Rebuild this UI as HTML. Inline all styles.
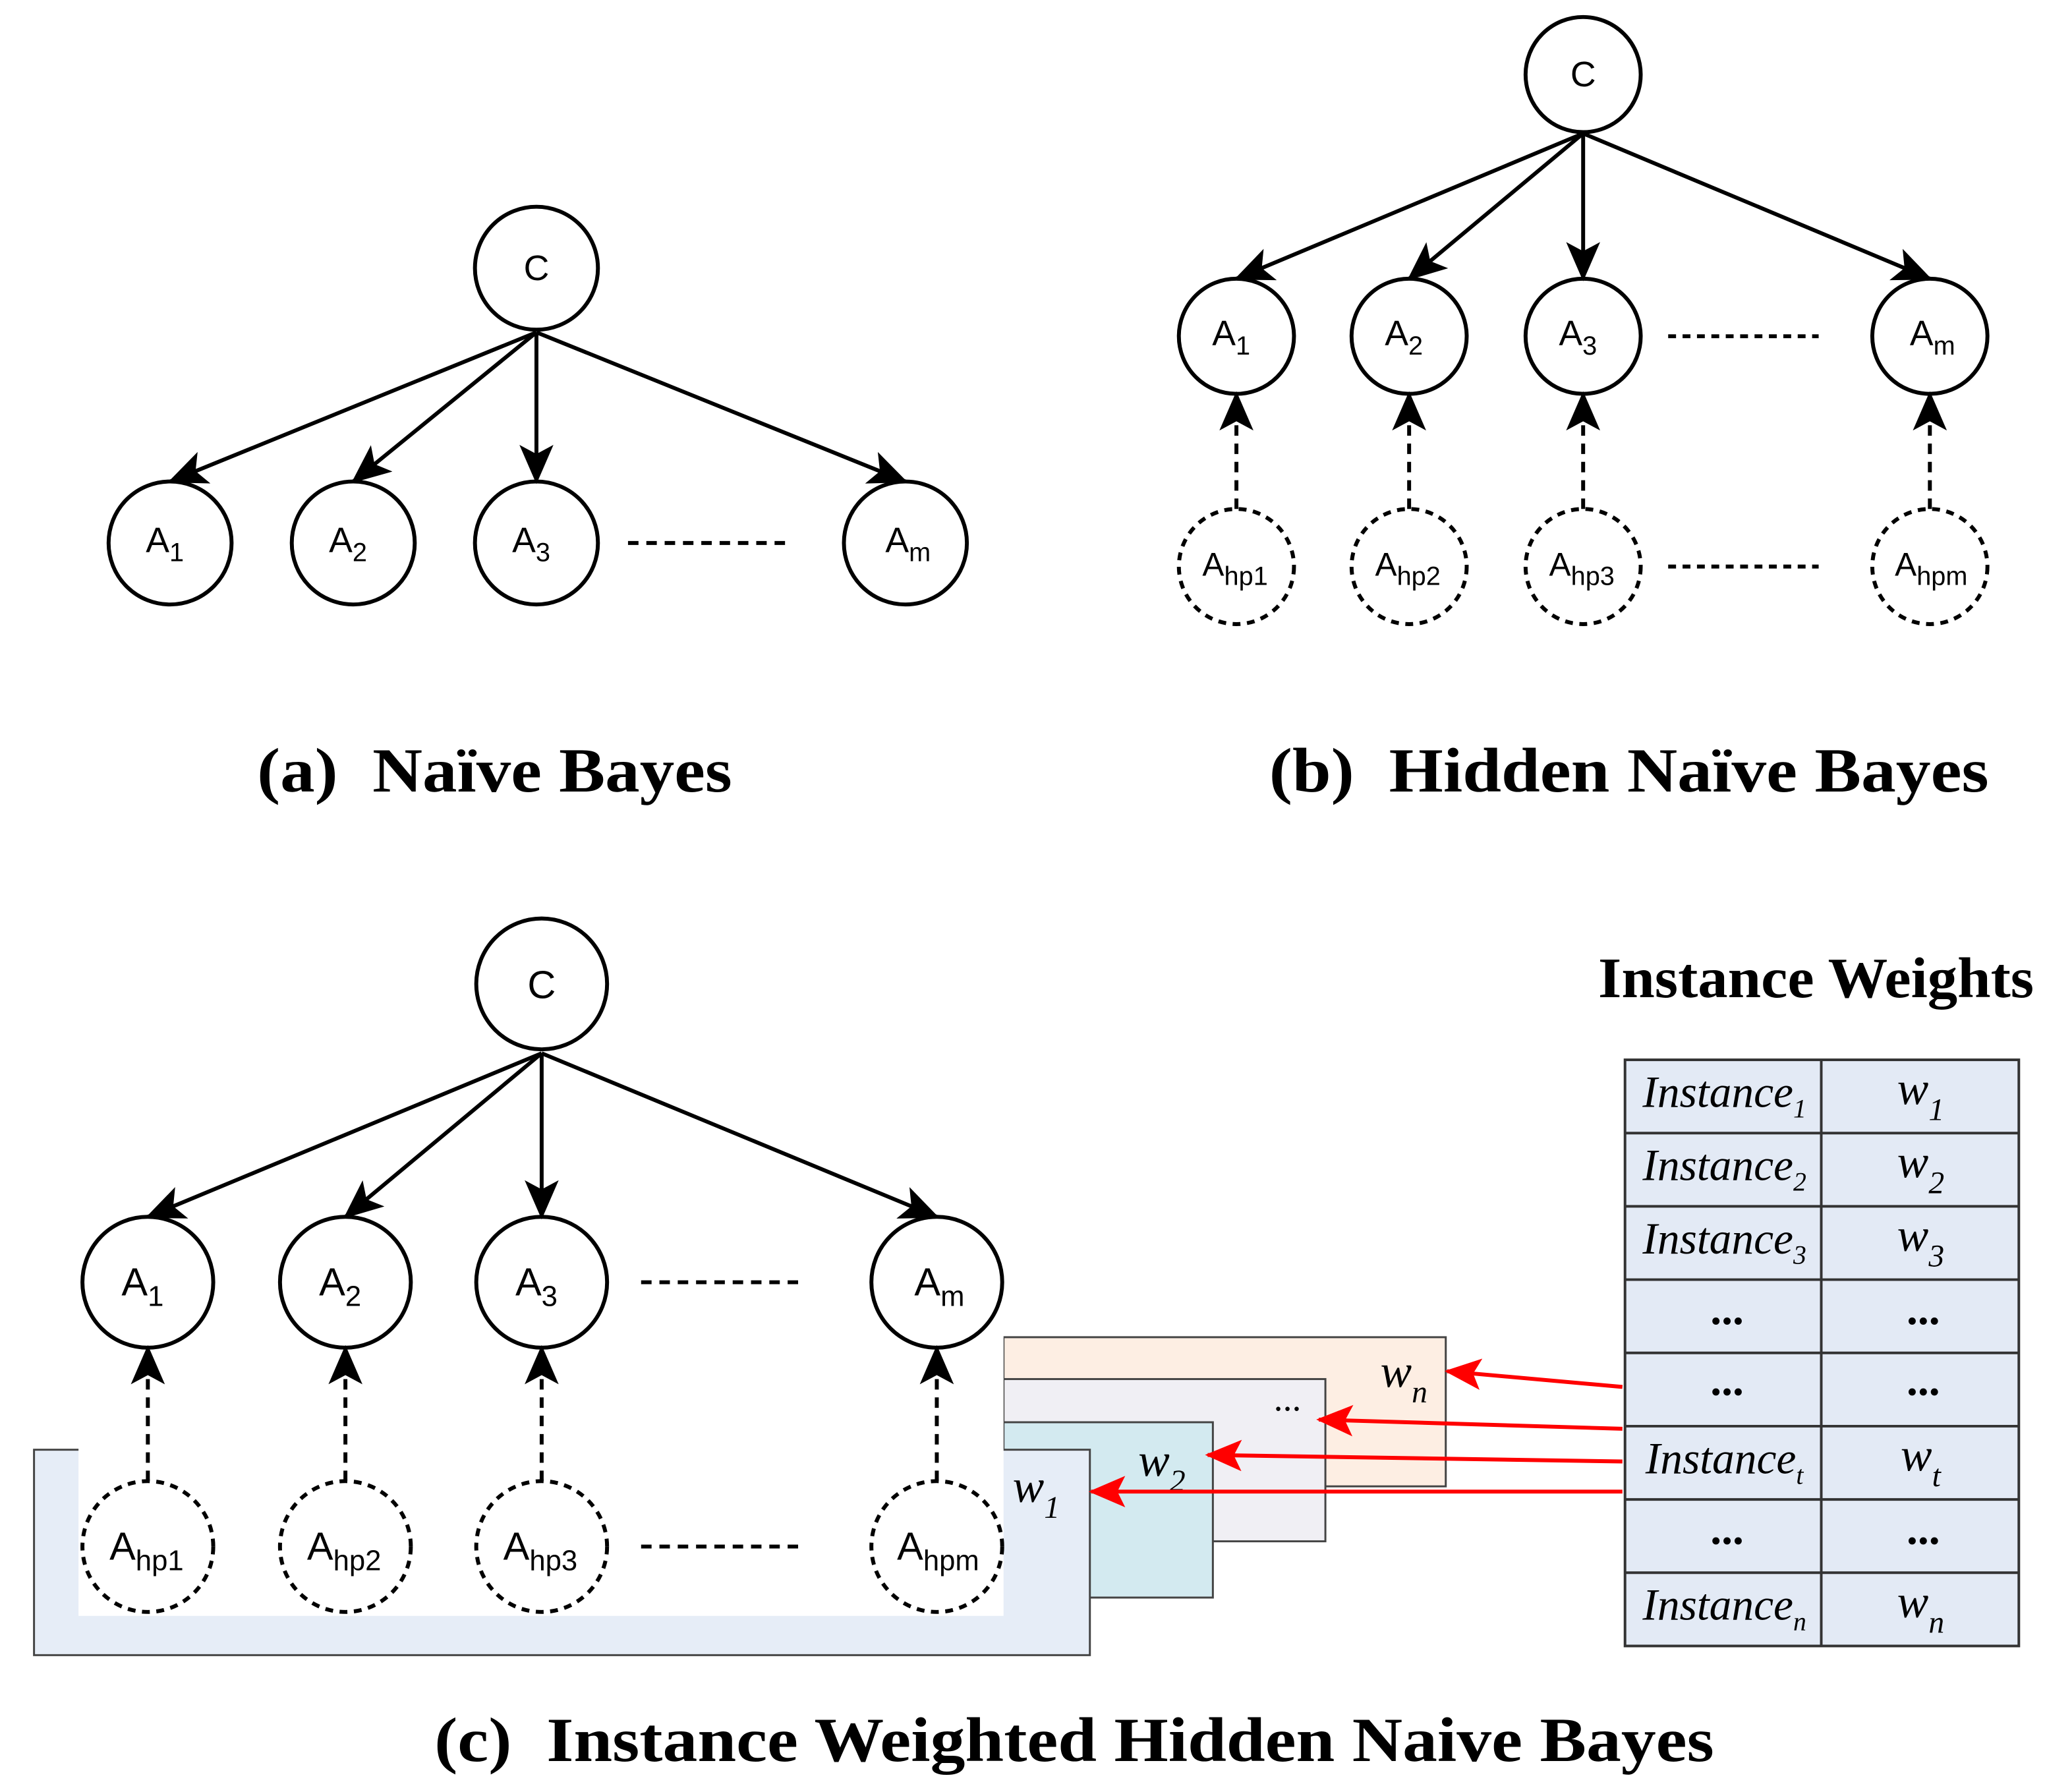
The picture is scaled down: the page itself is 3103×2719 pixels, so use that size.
<!DOCTYPE html>
<html><head><meta charset="utf-8"><style>html,body{margin:0;padding:0;background:#fff}svg{display:block}</style></head><body>
<svg width="3103" height="2719" viewBox="0 0 1563 1369.6" preserveAspectRatio="none" xmlns="http://www.w3.org/2000/svg">
<defs>
<marker id="ah2" markerWidth="30" markerHeight="26" refX="28" refY="13" orient="auto" markerUnits="userSpaceOnUse" viewBox="0 0 30 26"><path d="M0,0 L30,13 L0,26 L7,13 z" fill="#000"/></marker>
<marker id="rh" markerWidth="28" markerHeight="24" refX="26" refY="12" orient="auto" markerUnits="userSpaceOnUse" viewBox="0 0 28 24"><path d="M0,0 L28,12 L0,24 L6,12 z" fill="#f00"/></marker>
</defs>
<g font-family="Liberation Sans, sans-serif" font-size="27" text-anchor="middle" fill="#000">
<!-- (a) -->
<g stroke="#000" stroke-width="3" fill="none">
<circle cx="410" cy="205" r="47"/>
<circle cx="130" cy="415" r="47"/><circle cx="270" cy="415" r="47"/><circle cx="410" cy="415" r="47"/><circle cx="692" cy="415" r="47"/>
<line x1="410" y1="254" x2="130" y2="368" marker-end="url(#ah2)"/>
<line x1="410" y1="254" x2="270" y2="368" marker-end="url(#ah2)"/>
<line x1="410" y1="254" x2="410" y2="368" marker-end="url(#ah2)"/>
<line x1="410" y1="254" x2="692" y2="368" marker-end="url(#ah2)"/>
<line x1="480" y1="415" x2="600" y2="415" stroke-dasharray="8,6"/>
</g>
<text x="410" y="214">C</text>
<text x="126" y="422">A<tspan font-size="20" dy="7">1</tspan></text>
<text x="266" y="422">A<tspan font-size="20" dy="7">2</tspan></text>
<text x="406" y="422">A<tspan font-size="20" dy="7">3</tspan></text>
<text x="694" y="422">A<tspan font-size="20" dy="7">m</tspan></text>
<text x="378" y="605" font-family="Liberation Serif, serif" font-weight="bold" font-size="48" textLength="363" lengthAdjust="spacingAndGlyphs" xml:space="preserve">(a)  Naïve Bayes</text>
<!-- (b) -->
<g stroke="#000" stroke-width="3" fill="none">
<circle cx="1210" cy="57" r="44"/>
<circle cx="945" cy="257" r="44"/><circle cx="1077" cy="257" r="44"/><circle cx="1210" cy="257" r="44"/><circle cx="1475" cy="257" r="44"/>
<line x1="1210" y1="102" x2="945" y2="213" marker-end="url(#ah2)"/>
<line x1="1210" y1="102" x2="1077" y2="213" marker-end="url(#ah2)"/>
<line x1="1210" y1="102" x2="1210" y2="213" marker-end="url(#ah2)"/>
<line x1="1210" y1="102" x2="1475" y2="213" marker-end="url(#ah2)"/>
<g stroke-dasharray="6,5">
<circle cx="945" cy="433" r="44"/><circle cx="1077" cy="433" r="44"/><circle cx="1210" cy="433" r="44"/><circle cx="1475" cy="433" r="44"/>
<line x1="1275" y1="257" x2="1390" y2="257"/><line x1="1275" y1="433" x2="1390" y2="433"/>
</g>
<g stroke-dasharray="8,6">
<line x1="945" y1="389" x2="945" y2="301" marker-end="url(#ah2)"/>
<line x1="1077" y1="389" x2="1077" y2="301" marker-end="url(#ah2)"/>
<line x1="1210" y1="389" x2="1210" y2="301" marker-end="url(#ah2)"/>
<line x1="1475" y1="389" x2="1475" y2="301" marker-end="url(#ah2)"/>
</g>
</g>
<text x="1210" y="66">C</text>
<text x="941" y="264">A<tspan font-size="20" dy="7">1</tspan></text>
<text x="1073" y="264">A<tspan font-size="20" dy="7">2</tspan></text>
<text x="1206" y="264">A<tspan font-size="20" dy="7">3</tspan></text>
<text x="1477" y="264">A<tspan font-size="20" dy="7">m</tspan></text>
<g font-size="25">
<text x="944" y="440">A<tspan font-size="20" dy="7">hp1</tspan></text>
<text x="1076" y="440">A<tspan font-size="20" dy="7">hp2</tspan></text>
<text x="1209" y="440">A<tspan font-size="20" dy="7">hp3</tspan></text>
<text x="1476" y="440">A<tspan font-size="20" dy="7">hpm</tspan></text>
</g>
<text x="1245" y="605" font-family="Liberation Serif, serif" font-weight="bold" font-size="48" textLength="550" lengthAdjust="spacingAndGlyphs" xml:space="preserve">(b)  Hidden Naïve Bayes</text>
<!-- (c) panels -->
<rect x="767" y="1022" width="338" height="114" fill="#fdeee3" stroke="#444" stroke-width="1.5"/>
<rect x="767" y="1054" width="246" height="124" fill="#f0eff4" stroke="#444" stroke-width="1.5"/>
<rect x="767" y="1087" width="160" height="134" fill="#d3eaf0" stroke="#444" stroke-width="1.5"/>
<rect x="26" y="1108" width="807" height="157" fill="#e6edf7" stroke="#444" stroke-width="1.5"/>
<rect x="60" y="1020" width="707" height="215" fill="#fff"/>
<g font-family="Liberation Serif, serif" font-style="italic" font-size="36">
<text x="1073" y="1060">w<tspan font-size="24" dy="12">n</tspan></text>
<text x="984" y="1078" font-style="normal" font-size="28">...</text>
<text x="888" y="1128">w<tspan font-size="24" dy="12">2</tspan></text>
<text x="792" y="1148">w<tspan font-size="24" dy="12">1</tspan></text>
</g>
<g stroke="#000" stroke-width="3" fill="none">
<circle cx="414" cy="752" r="50"/>
<circle cx="113" cy="980" r="50"/><circle cx="264" cy="980" r="50"/><circle cx="414" cy="980" r="50"/><circle cx="716" cy="980" r="50"/>
<line x1="414" y1="805" x2="113" y2="930" marker-end="url(#ah2)"/>
<line x1="414" y1="805" x2="264" y2="930" marker-end="url(#ah2)"/>
<line x1="414" y1="805" x2="414" y2="930" marker-end="url(#ah2)"/>
<line x1="414" y1="805" x2="716" y2="930" marker-end="url(#ah2)"/>
<g stroke-dasharray="6,5">
<circle cx="113" cy="1182" r="50"/><circle cx="264" cy="1182" r="50"/><circle cx="414" cy="1182" r="50"/><circle cx="716" cy="1182" r="50"/>
<line x1="490" y1="980" x2="615" y2="980" stroke-dasharray="8,6"/><line x1="490" y1="1182" x2="615" y2="1182" stroke-dasharray="8,6"/>
</g>
<g stroke-dasharray="8,6">
<line x1="113" y1="1132" x2="113" y2="1030" marker-end="url(#ah2)"/>
<line x1="264" y1="1132" x2="264" y2="1030" marker-end="url(#ah2)"/>
<line x1="414" y1="1132" x2="414" y2="1030" marker-end="url(#ah2)"/>
<line x1="716" y1="1132" x2="716" y2="1030" marker-end="url(#ah2)"/>
</g>
</g>
<g font-size="30">
<text x="414" y="763">C</text>
<text x="109" y="990">A<tspan font-size="22" dy="8">1</tspan></text>
<text x="260" y="990">A<tspan font-size="22" dy="8">2</tspan></text>
<text x="410" y="990">A<tspan font-size="22" dy="8">3</tspan></text>
<text x="718" y="990">A<tspan font-size="22" dy="8">m</tspan></text>
<text x="112" y="1192">A<tspan font-size="22" dy="8">hp1</tspan></text>
<text x="263" y="1192">A<tspan font-size="22" dy="8">hp2</tspan></text>
<text x="413" y="1192">A<tspan font-size="22" dy="8">hp3</tspan></text>
<text x="717" y="1192">A<tspan font-size="22" dy="8">hpm</tspan></text>
</g>
<!-- table -->
<text x="1388" y="762" font-family="Liberation Serif, serif" font-weight="bold" font-size="44" textLength="333" lengthAdjust="spacingAndGlyphs">Instance Weights</text>
<rect x="1242" y="810" width="301" height="448" fill="#e3eaf5" stroke="#333" stroke-width="2"/>
<g stroke="#333" stroke-width="2">
<line x1="1392" y1="810" x2="1392" y2="1258"/>
<line x1="1242" y1="866" x2="1543" y2="866"/><line x1="1242" y1="922" x2="1543" y2="922"/>
<line x1="1242" y1="978" x2="1543" y2="978"/><line x1="1242" y1="1034" x2="1543" y2="1034"/>
<line x1="1242" y1="1090" x2="1543" y2="1090"/><line x1="1242" y1="1146" x2="1543" y2="1146"/>
<line x1="1242" y1="1202" x2="1543" y2="1202"/>
</g>
<g font-family="Liberation Serif, serif" font-style="italic" font-size="34">
<text x="1318" y="846">Instance<tspan font-size="20" dy="8">1</tspan></text>
<text x="1318" y="902">Instance<tspan font-size="20" dy="8">2</tspan></text>
<text x="1318" y="958">Instance<tspan font-size="20" dy="8">3</tspan></text>
<text x="1318" y="1126">Instance<tspan font-size="20" dy="8">t</tspan></text>
<text x="1318" y="1238">Instance<tspan font-size="20" dy="8">n</tspan></text>
<text x="1468" y="844" font-size="36">w<tspan font-size="24" dy="12">1</tspan></text>
<text x="1468" y="900" font-size="36">w<tspan font-size="24" dy="12">2</tspan></text>
<text x="1468" y="956" font-size="36">w<tspan font-size="24" dy="12">3</tspan></text>
<text x="1468" y="1124" font-size="36">w<tspan font-size="24" dy="12">t</tspan></text>
<text x="1468" y="1236" font-size="36">w<tspan font-size="24" dy="12">n</tspan></text>
</g>
<g font-family="Liberation Serif, serif" font-size="34" font-weight="bold">
<text x="1320" y="1012">...</text><text x="1470" y="1012">...</text>
<text x="1320" y="1066">...</text><text x="1470" y="1066">...</text>
<text x="1320" y="1180">...</text><text x="1470" y="1180">...</text>
</g>
<g stroke="#f00" stroke-width="3">
<line x1="1240" y1="1060" x2="1106" y2="1048" marker-end="url(#rh)"/>
<line x1="1240" y1="1092" x2="1008" y2="1085" marker-end="url(#rh)"/>
<line x1="1240" y1="1117" x2="923" y2="1112" marker-end="url(#rh)"/>
<line x1="1240" y1="1140" x2="834" y2="1140" marker-end="url(#rh)"/>
</g>
<text x="821" y="1346" font-family="Liberation Serif, serif" font-weight="bold" font-size="48" textLength="978" lengthAdjust="spacingAndGlyphs" xml:space="preserve">(c)  Instance Weighted Hidden Naive Bayes</text>
</g>
</svg>
</body></html>
